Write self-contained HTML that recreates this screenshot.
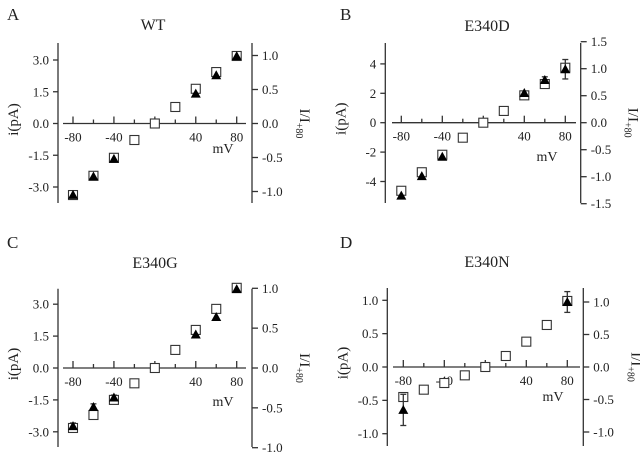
<!DOCTYPE html>
<html><head><meta charset="utf-8"><style>
body{margin:0;background:#fff}
svg{display:block;font-family:"Liberation Serif",serif}
</style></head><body>
<svg id="fig" width="640" height="454" viewBox="0 0 640 454"></svg>
<script>
const voltages=[-80,-60,-40,-20,0,20,40,60,80];
const triVoltages=[-80,-60,-40,40,60,80];
// Panel A (WT)
const aSquares=[-3.38,-2.47,-1.62,-0.78,0,0.78,1.64,2.43,3.19];
const aTri=[-1.05,-0.78,-0.52,0.44,0.71,0.99];
const aTriErr=[0.02,0.02,0.02,0.02,0.02,0.02];
// Panel B (E340D)
const bSquares=[-4.63,-3.37,-2.18,-1.02,0,0.8,1.86,2.63,3.74];
const bTri=[-1.35,-0.99,-0.63,0.55,0.79,0.99];
const bTriErr=[0.03,0.03,0.03,0.03,0.06,0.18];
// Panel C (E340G)
const cSquares=[-2.82,-2.21,-1.5,-0.72,0,0.85,1.79,2.78,3.77];
const cTri=[-0.73,-0.49,-0.37,0.42,0.64,0.99];
const cTriErr=[0.04,0.04,0.03,0.02,0.02,0.02];
// Panel D (E340N)
const dSquares=[-0.45,-0.34,-0.24,-0.125,0,0.165,0.38,0.63,0.99];
const dTriVoltages=[-80,80];
const dTri=[-0.66,1.0];
const dTriErr=[0.24,0.16];
// tick labels
const aLeftTicks=[-3.0,-1.5,0.0,1.5,3.0], aRightTicks=[-1.0,-0.5,0.0,0.5,1.0];
const bLeftTicks=[-4,-2,0,2,4], bRightTicks=[-1.5,-1.0,-0.5,0.0,0.5,1.0,1.5];
const cLeftTicks=[-3.0,-1.5,0.0,1.5,3.0], cRightTicks=[-1.0,-0.5,0.0,0.5,1.0];
const dLeftTicks=[-1.0,-0.5,0.0,0.5,1.0], dRightTicks=[-1.0,-0.5,0.0,0.5,1.0];
const xTickLabels=[-80,-40,40,80];

const NS="http://www.w3.org/2000/svg";
const svg=document.getElementById('fig');
function mk(tag,attrs,parent){const e=document.createElementNS(NS,tag);for(const k in attrs)e.setAttribute(k,attrs[k]);(parent||svg).appendChild(e);return e;}

function panel(p){
  const g=mk('g',{});
  
  
  const xs=v=>p.x0+(v+80)*(p.x1-p.x0)/160;
  const yl=v=>p.yZero+v*p.lScale;
  const yr=v=>p.yZero+v*p.rScale;
  const ln=(x1,y1,x2,y2,name)=>{const l=mk('line',{x1,y1,x2,y2,stroke:'#333','stroke-width':1.3},g);return l;};
  const tx=(x,y,s,size,anchor,name,extra)=>{const t=mk('text',Object.assign({x,y,'font-size':size,'text-anchor':anchor,fill:'#222'},extra||{}),g);t.textContent=s;return t;};
  // axes
  ln(p.lx,p.yTop,p.lx,p.yBot,'left-axis');
  ln(p.rx,p.yTop,p.rx,p.yBot,'right-axis');
  ln(p.xa0,p.yZero,p.xa1,p.yZero,'x-axis');
  voltages.forEach(v=>{const major=(v%40===0);ln(xs(v),p.yZero,xs(v),p.yZero-(major?7:4),'x-tick');});
  xTickLabels.forEach(v=>tx(xs(v),p.yZero+18,String(v),13,'middle','x-tick-label'));
  p.lt.forEach(v=>{const y=yl(-v);ln(p.lx-5,y,p.lx,y,'left-tick');tx(p.lx-9,y+4.5,p.lfmt(v),13,'end','left-tick-label');});
  p.rt.forEach(v=>{const y=yr(-v);ln(p.rx,y,p.rx+6,y,'right-tick');tx(p.rx+10,y+4.5,v.toFixed(1),13,'start','right-tick-label');});
  tx(p.mvx,p.mvy,'mV',14,'middle','x-axis-title');
  const yt=tx(0,0,'i(pA)',15,'middle','left-axis-title',{transform:`translate(${p.lx-40},${p.yZero-4}) rotate(-90)`});
  const rt=mk('text',{'font-size':15,'text-anchor':'middle',fill:'#222',transform:`translate(${p.rx+48},${p.yZero}) rotate(90)`},g);
  
  rt.innerHTML='I/I<tspan font-size="10" dy="4">+80</tspan>';
  tx(p.tx,p.ty,p.title,16,'middle','panel-title');
  tx(p.letX,p.letY,p.id,17,'start','panel-letter');
  // squares
  p.sq.forEach((v,i)=>{const r=mk('rect',{x:xs(voltages[i])-4.5,y:yl(-v)-4.5,width:9,height:9,fill:'#fff',stroke:'#333','stroke-width':1.1},g);
    });
  // triangles
  p.tri.forEach((v,i)=>{const x=xs(p.tv[i]),y=yr(-v),e=p.err[i]*Math.abs(p.rScale);
    if(e>2){ln(x,y-e,x,y+e,'error-bar');ln(x-3,y-e,x+3,y-e,'error-cap');ln(x-3,y+e,x+3,y+e,'error-cap');}
    const t=mk('polygon',{points:`${x},${y-5} ${x-5},${y+4} ${x+5},${y+4}`,fill:'#000'},g);
    });
}
const f1=v=>v.toFixed(1), f0=v=>String(v);
panel({id:'A',title:'WT',x0:73,x1:236.7,xa0:63,xa1:246,lx:58,rx:252,yTop:43,yBot:203,yZero:123.5,lScale:63.5/3,rScale:68,
  lt:aLeftTicks,rt:aRightTicks,lfmt:f1,sq:aSquares,tri:aTri,tv:triVoltages,err:aTriErr,mvx:223,mvy:153,tx:153,ty:30,letX:7,letY:20});
panel({id:'B',title:'E340D',x0:401.3,x1:565.3,xa0:392,xa1:576,lx:385.3,rx:580.7,yTop:43,yBot:203,yZero:122.7,lScale:14.7,rScale:54,
  lt:bLeftTicks,rt:bRightTicks,lfmt:f0,sq:bSquares,tri:bTri,tv:triVoltages,err:bTriErr,mvx:547,mvy:161,tx:487,ty:31,letX:340,letY:20});
panel({id:'C',title:'E340G',x0:73,x1:236.7,xa0:63,xa1:246,lx:58,rx:252,yTop:288.7,yBot:447,yZero:368,lScale:63.8/3,rScale:79.7,
  lt:cLeftTicks,rt:cRightTicks,lfmt:f1,sq:cSquares,tri:cTri,tv:triVoltages,err:cTriErr,mvx:223,mvy:406,tx:155,ty:268,letX:7,letY:248});
panel({id:'D',title:'E340N',x0:403.3,x1:567.3,xa0:393,xa1:580,lx:387.3,rx:583.3,yTop:288,yBot:446,yZero:367,lScale:66.7,rScale:65,
  lt:dLeftTicks,rt:dRightTicks,lfmt:f1,sq:dSquares,tri:dTri,tv:dTriVoltages,err:dTriErr,mvx:553,mvy:401,tx:487,ty:267,letX:340,letY:248});
</script>
</body></html>
